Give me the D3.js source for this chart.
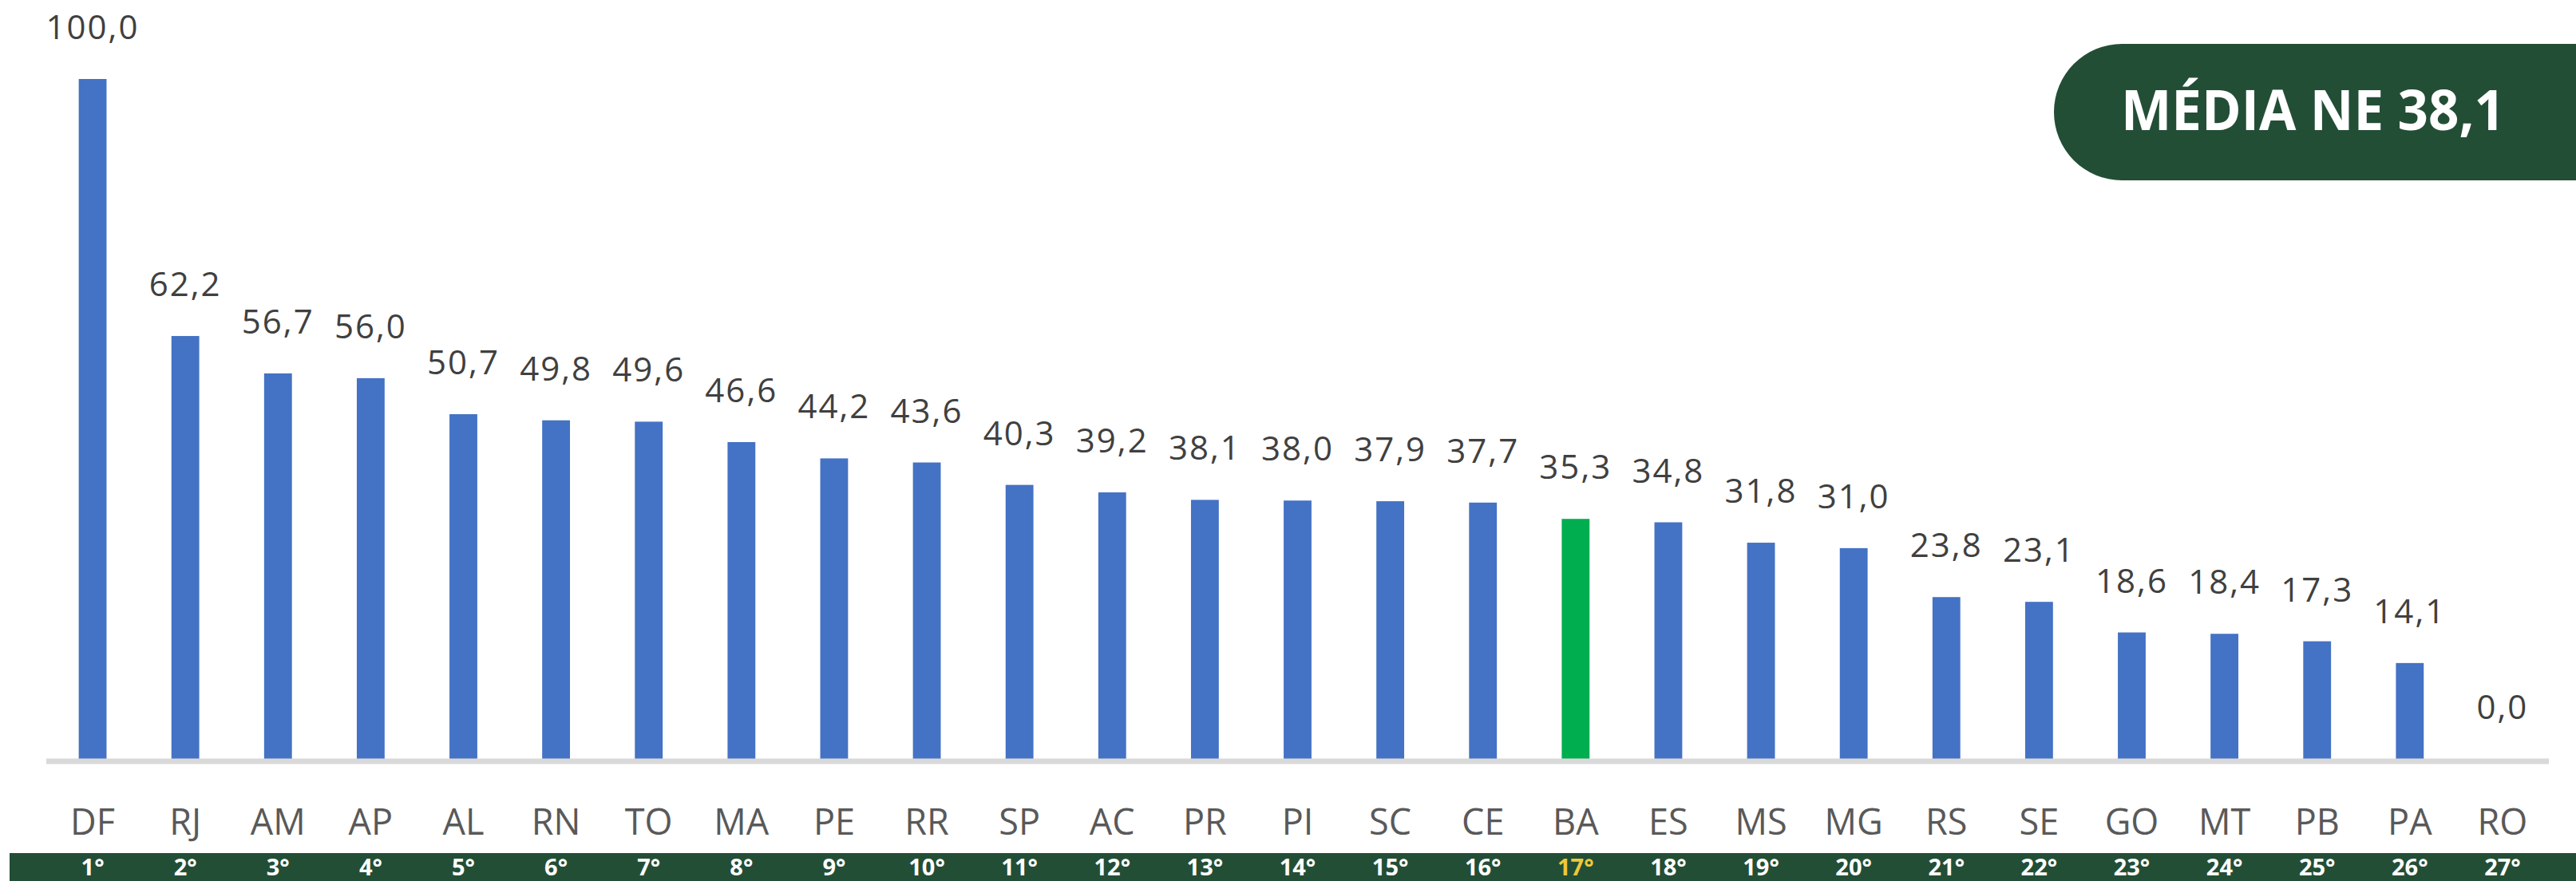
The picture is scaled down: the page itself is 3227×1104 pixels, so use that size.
<html>
<head>
    <style>
        body { margin: 0; background: #fff; }
        text { font-family: "Open Sans", "Noto Sans", sans-serif; }
    </style>
</head>
<body>
    <div id="chart"></div>
    <script src="https://d3js.org/d3.v7.min.js"></script>
    <script>
        // data
        var states = ["DF", "RJ", "AM", "AP", "AL", "RN", "TO", "MA", "PE", "RR", "SP", "AC", "PR", "PI",
            "SC", "CE", "BA", "ES", "MS", "MG", "RS", "SE", "GO", "MT", "PB", "PA", "RO"];
        var values = [100.0, 62.2, 56.7, 56.0, 50.7, 49.8, 49.6, 46.6, 44.2, 43.6, 40.3, 39.2, 38.1, 38.0,
            37.9, 37.7, 35.3, 34.8, 31.8, 31.0, 23.8, 23.1, 18.6, 18.4, 17.3, 14.1, 0.0];
        var ranks = ["1°", "2°", "3°", "4°", "5°", "6°", "7°", "8°", "9°", "10°", "11°", "12°", "13°", "14°",
            "15°", "16°", "17°", "18°", "19°", "20°", "21°", "22°", "23°", "24°", "25°", "26°", "27°"];
        var highlight = "BA";
        var mediaLabel = "MÉDIA NE 38,1";

        var width = 3227, height = 1104;
        var darkGreen = "#234e36";

        var data = states.map(function (s, i) {
            return { state: s, value: values[i], rank: ranks[i] };
        });

        var svg = d3.select("#chart").append("svg")
            .attr("width", width)
            .attr("height", height);

        var x = d3.scaleBand()
            .domain(states)
            .range([58, 3193])
            .paddingInner(0.7)
            .paddingOuter(0.35);

        var y = d3.scaleLinear()
            .domain([0, 100])
            .range([951, 99]);

        var fmt = function (v) { return d3.format(".1f")(v).replace(".", ","); };

        // bars
        svg.append("g").selectAll("rect")
            .data(data)
            .enter().append("rect")
            .attr("x", function (d) { return x(d.state); })
            .attr("y", function (d) { return y(d.value); })
            .attr("width", x.bandwidth())
            .attr("height", function (d) { return y(0) - y(d.value); })
            .attr("fill", function (d) { return d.state === highlight ? "#00ad4f" : "#4472c4"; });

        // baseline
        svg.append("line")
            .attr("x1", x.range()[0]).attr("x2", x.range()[1])
            .attr("y1", y(0) + 3).attr("y2", y(0) + 3)
            .attr("stroke", "#d9d9d9")
            .attr("stroke-width", 7);

        // value labels
        svg.append("g").selectAll("text")
            .data(data)
            .enter().append("text")
            .attr("x", function (d) { return x(d.state) + x.bandwidth() / 2; })
            .attr("y", function (d) { return y(d.value) - 50; })
            .attr("text-anchor", "middle")
            .attr("fill", "#404040")
            .style("font-size", "42px")
            .style("letter-spacing", "2px")
            .text(function (d) { return fmt(d.value); });

        // category axis
        var xAxis = svg.append("g")
            .attr("transform", "translate(0,1046)")
            .call(d3.axisBottom(x).tickSize(0).tickPadding(0));
        xAxis.select(".domain").remove();
        xAxis.selectAll("text")
            .attr("dy", 0)
            .attr("fill", "#595959")
            .style("font-family", "'Open Sans', sans-serif")
            .style("font-size", "45px");

        // rank band
        svg.append("rect")
            .attr("x", 12).attr("y", 1069)
            .attr("width", width - 12).attr("height", height - 1069)
            .attr("fill", darkGreen);

        svg.append("g").selectAll("text")
            .data(data)
            .enter().append("text")
            .attr("x", function (d) { return x(d.state) + x.bandwidth() / 2; })
            .attr("y", 1097)
            .attr("text-anchor", "middle")
            .attr("fill", function (d) { return d.state === highlight ? "#eec83a" : "#fff"; })
            .style("font-size", "29px")
            .style("font-weight", "bold")
            .text(function (d) { return d.rank; });

        // media badge
        var bx = 2573, by = 55, bh = 171, r = 85;
        svg.append("path")
            .attr("d", "M" + width + "," + by + " H" + (bx + r) +
                " A" + r + "," + (bh / 2) + " 0 0 0 " + bx + "," + (by + bh / 2) +
                " A" + r + "," + (bh / 2) + " 0 0 0 " + (bx + r) + "," + (by + bh) +
                " H" + width + " Z")
            .attr("fill", darkGreen);

        svg.append("text")
            .attr("x", 2657)
            .attr("y", 163)
            .attr("fill", "#fff")
            .attr("textLength", 481)
            .attr("lengthAdjust", "spacingAndGlyphs")
            .style("font-size", "70px")
            .style("font-weight", "bold")
            .text(mediaLabel);
    </script>
</body>
</html>
